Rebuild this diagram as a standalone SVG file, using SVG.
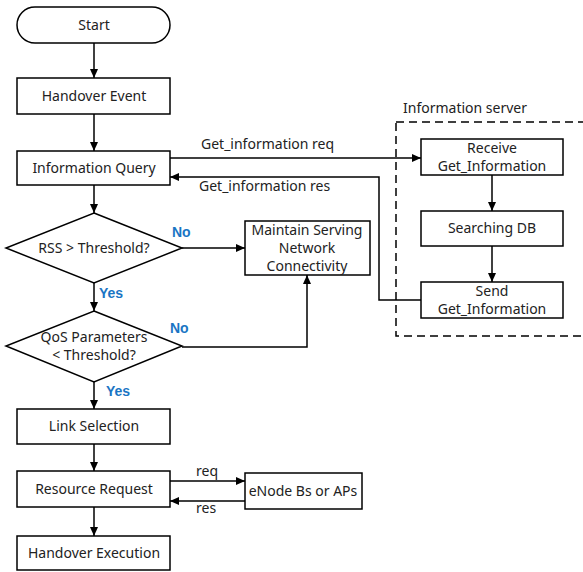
<svg xmlns="http://www.w3.org/2000/svg" width="583" height="572" viewBox="0 0 583 572">
<style>
.box{fill:#fff;stroke:#000;stroke-width:1.5}
.t{font-family:"Noto Sans","Liberation Sans",Arial,sans-serif;font-size:14px;fill:#222;text-anchor:middle;dominant-baseline:central}
.l{font-family:"Noto Sans","Liberation Sans",Arial,sans-serif;font-size:14px;fill:#222;dominant-baseline:central}
.b{font-family:"Liberation Sans",Arial,sans-serif;font-size:14px;font-weight:bold;fill:#1a75c4;dominant-baseline:central}
.c{fill:none;stroke:#000;stroke-width:1.5;marker-end:url(#ah)}
</style>
<defs>
<marker id="ah" markerWidth="10" markerHeight="10" refX="9" refY="5" orient="auto" markerUnits="userSpaceOnUse">
<path d="M0,1 L9,5 L0,9 Z" fill="#000"/>
</marker>
</defs>
<g id="server">
<rect x="396" y="122" width="200" height="214" fill="none" stroke="#000" stroke-width="1.5" stroke-dasharray="8,5"/>
<text class="l" x="403" y="107">Information server</text>
</g>
<g id="start"><rect class="box" x="17" y="7" width="153" height="36" rx="18"/><text class="t" x="94" y="24">Start</text></g>
<g id="handover"><rect class="box" x="17" y="78" width="153" height="36"/><text class="t" x="94" y="95">Handover Event</text></g>
<g id="query"><rect class="box" x="17" y="151" width="153" height="34"/><text class="t" x="94" y="167">Information Query</text></g>
<g id="rss"><polygon class="box" points="94,213 182,248 94,283 6,248"/><text class="t" x="94" y="247">RSS &gt; Threshold?</text></g>
<g id="qos"><polygon class="box" points="94,311 182,346 94,382 6,346"/><text class="t" x="94" y="336">QoS Parameters</text><text class="t" x="94" y="354">&lt; Threshold?</text></g>
<g id="maintain"><rect class="box" x="245" y="221" width="125" height="54"/><text class="t" x="307" y="229">Maintain Serving</text><text class="t" x="307" y="247">Network</text><text class="t" x="307" y="265">Connectivity</text></g>
<g id="link"><rect class="box" x="17" y="409" width="153" height="35"/><text class="t" x="94" y="425">Link Selection</text></g>
<g id="resource"><rect class="box" x="17" y="471" width="153" height="36"/><text class="t" x="94" y="488">Resource Request</text></g>
<g id="execution"><rect class="box" x="17" y="536" width="153" height="34"/><text class="t" x="94" y="552">Handover Execution</text></g>
<g id="enode"><rect class="box" x="245" y="473" width="117" height="36"/><text class="t" x="303" y="490">eNode Bs or APs</text></g>
<g id="receive"><rect class="box" x="421" y="139" width="142" height="36"/><text class="t" x="492" y="147">Receive</text><text class="t" x="492" y="165">Get_Information</text></g>
<g id="searching"><rect class="box" x="421" y="211" width="142" height="35"/><text class="t" x="492" y="227">Searching DB</text></g>
<g id="send"><rect class="box" x="421" y="282" width="142" height="36"/><text class="t" x="492" y="290">Send</text><text class="t" x="492" y="308">Get_Information</text></g>
<g id="connectors">
<line class="c" x1="94" y1="43" x2="94" y2="78"/>
<line class="c" x1="94" y1="114" x2="94" y2="151"/>
<line class="c" x1="94" y1="185" x2="94" y2="213"/>
<line class="c" x1="94" y1="283" x2="94" y2="311"/>
<line class="c" x1="94" y1="382" x2="94" y2="409"/>
<line class="c" x1="94" y1="444" x2="94" y2="471"/>
<line class="c" x1="94" y1="507" x2="94" y2="536"/>
<line class="c" x1="182" y1="248" x2="245" y2="248"/>
<polyline class="c" points="182,347 307,347 307,275"/>
<line class="c" x1="170" y1="481" x2="245" y2="481"/>
<line class="c" x1="245" y1="501" x2="170" y2="501"/>
<line class="c" x1="170" y1="158" x2="421" y2="158"/>
<polyline class="c" points="421,300 379,300 379,177 170,177"/>
<line class="c" x1="492" y1="175" x2="492" y2="211"/>
<line class="c" x1="492" y1="246" x2="492" y2="282"/>
<text class="b" x="172" y="232">No</text>
<text class="b" x="170" y="328">No</text>
<text class="b" x="99" y="293">Yes</text>
<text class="b" x="106" y="391">Yes</text>
<text class="l" x="196" y="470">req</text>
<text class="l" x="196" y="507">res</text>
<text class="l" x="201" y="143">Get_information req</text>
<text class="l" x="199" y="185">Get_information res</text>
</g>
</svg>
